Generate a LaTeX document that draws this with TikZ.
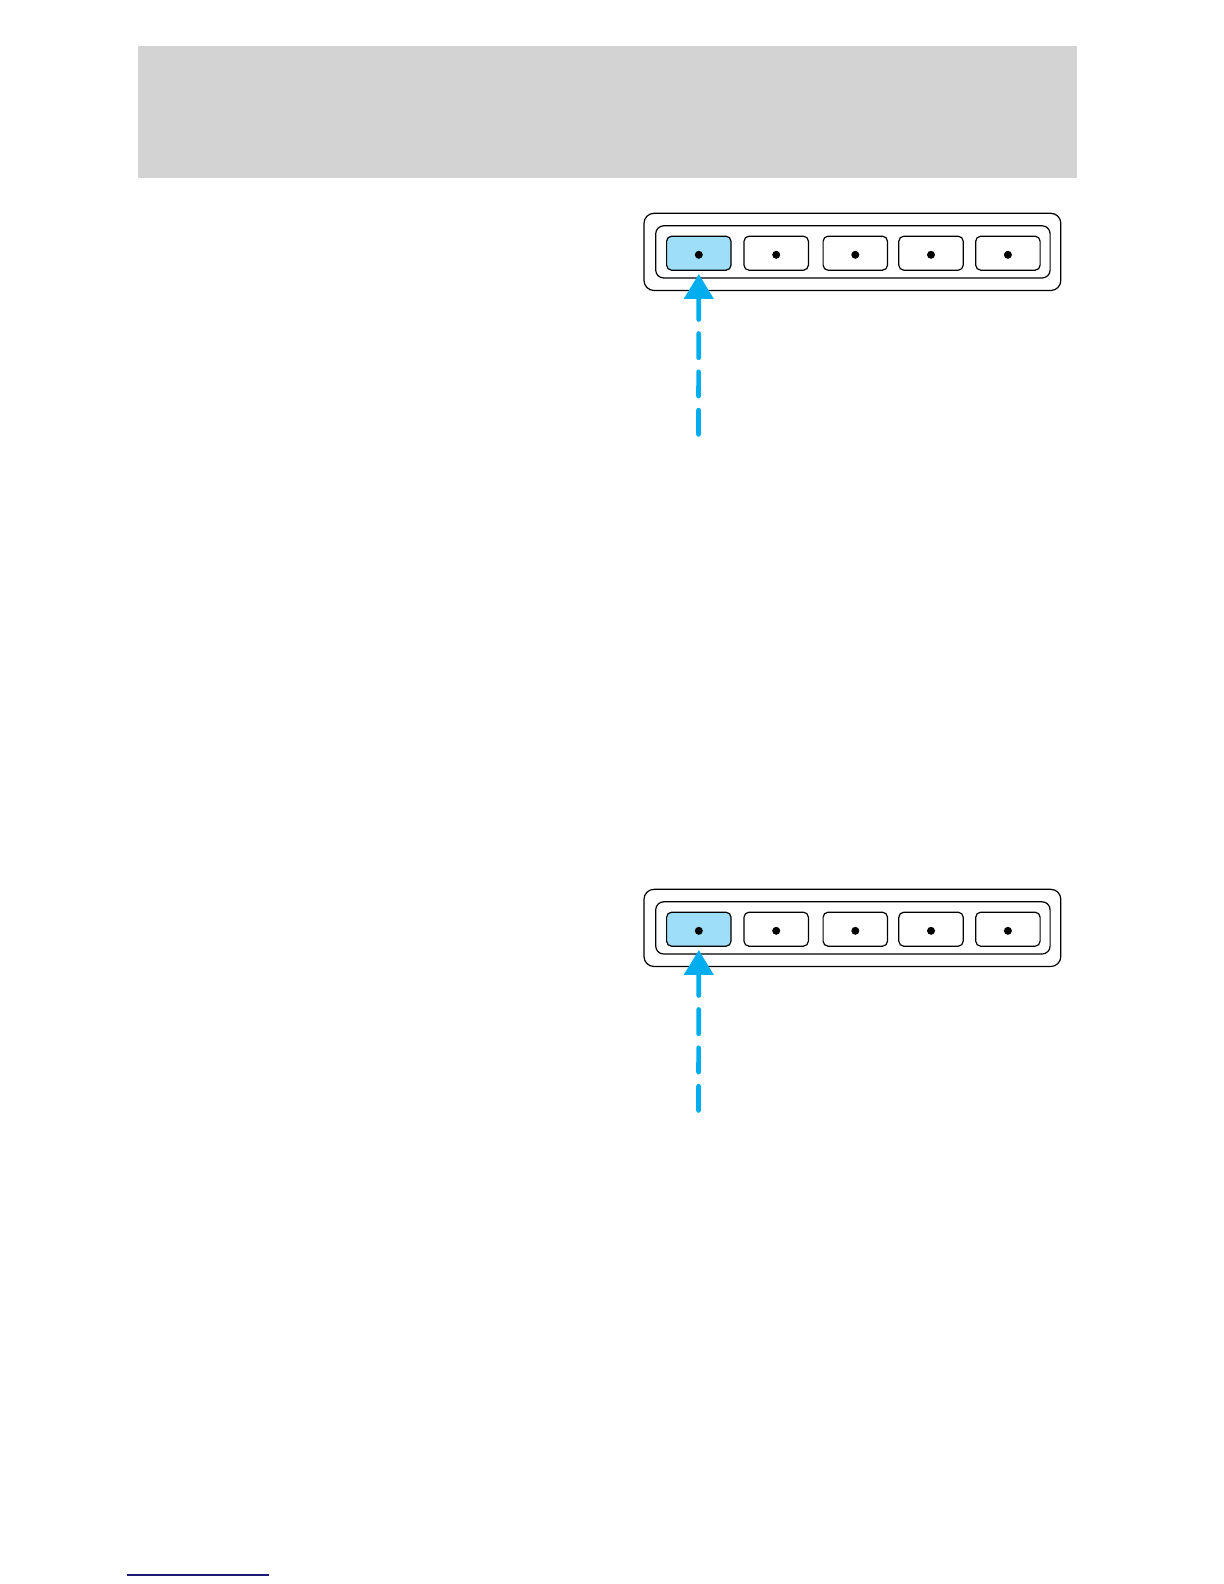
\documentclass[tikz,border=0pt]{standalone}
\usepackage{xcolor}
\definecolor{keyBlue}{HTML}{00AEEF}
\definecolor{keyFill}{HTML}{9EDEF8}
\definecolor{hdrGray}{HTML}{D3D3D3}
\definecolor{footNavy}{HTML}{1C1C78}
\usepackage{tikz}
\usetikzlibrary{arrows.meta, positioning, calc}

\begin{document}
\begin{tikzpicture}[
		x=0.5pt, y=-0.5pt,
		>=Stealth,
		frameOuter/.style={draw, line width=0.6pt, rounded corners=5pt,
			minimum width=208.4pt, minimum height=38.6pt, inner sep=0pt},
		frameInner/.style={draw, line width=0.6pt, rounded corners=4pt,
			minimum width=197.2pt, minimum height=26.1pt, inner sep=0pt},
		keyBtn/.style={draw, line width=0.6pt, rounded corners=2.5pt, fill=white,
			minimum width=32.2pt, minimum height=17pt, inner sep=0pt},
		keyBtnOn/.style={keyBtn, fill=keyFill},
		pushArrow/.style={keyBlue, line width=2.35pt, line cap=round,
			dash pattern=on 12.15pt off 7pt,
			-{Triangle[length=12.4pt, width=14.4pt]}}
	]
		\useasboundingbox (0,0) rectangle (1224,1584);

		% header band
		\fill[hdrGray] (138.4,46.5) rectangle (1076.6,177.7);

		% two keypad panels
		\foreach \p/\yy in {1/0, 2/676} {
			\node[frameOuter] (outer\p) at (852.4, 251.9+\yy) {};
			\node[frameInner] (inner\p) at (852.9, 251.9+\yy) {};

			\foreach \i/\xx in {1/698.8, 2/776.2, 3/855.3, 4/931.0, 5/1007.9} {
				\ifnum\i=1
					\node[keyBtnOn] (k\p-\i) at (\xx, 253.2+\yy) {};
				\else
					\node[keyBtn] (k\p-\i) at (\xx, 253.2+\yy) {};
				\fi
				\fill ([yshift=-0.8pt]k\p-\i.center) circle (4);
			}

			\coordinate (tail\p) at (698.5, 434.4+\yy);
			\draw[pushArrow] (tail\p) -- ([yshift=-1.6pt]k\p-1.south);
		}

		% footer rule
		\draw[footNavy, line width=0.65pt] (127.3,1575) -- (269,1575);
\end{tikzpicture}
\end{document}
